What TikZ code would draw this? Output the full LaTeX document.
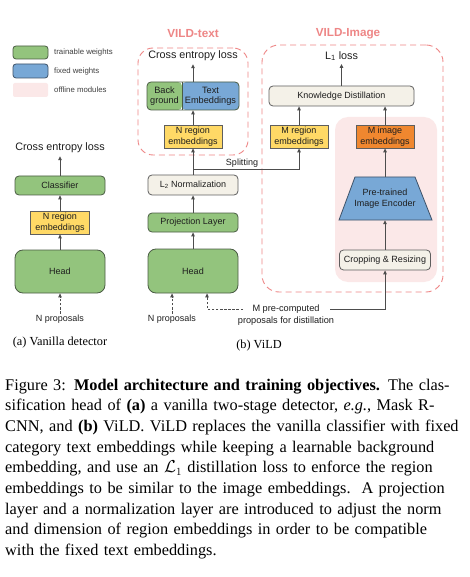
\documentclass[tikz,border=0pt]{standalone}
\usepackage{fontspec}
\setmainfont{Liberation Serif}
\newfontfamily\diagsans{Liberation Sans}
\usetikzlibrary{arrows.meta,calc}
\definecolor{gfill}{HTML}{93C47D}
\definecolor{gdraw}{HTML}{4A5C44}
\definecolor{bfill}{HTML}{78A8D6}
\definecolor{bdraw}{HTML}{3E5268}
\definecolor{yfill}{HTML}{FFD966}
\definecolor{ofill}{HTML}{F0872F}
\definecolor{beige}{HTML}{F4F1E8}
\definecolor{bordc}{HTML}{5E5E5E}
\definecolor{pinkc}{HTML}{FBE8E8}
\definecolor{redd}{HTML}{EE8686}
\definecolor{arrc}{HTML}{4D4D4D}
\definecolor{txtc}{HTML}{1E1E1E}
\newcommand{\dgbox}{\diagsans\fontsize{9}{10.6}\selectfont}
\newcommand{\dgbig}{\diagsans\fontsize{10.8}{12}\selectfont}
\newcommand{\dgleg}{\diagsans\fontsize{7.8}{9}\selectfont}
\newcommand{\dgtitle}{\diagsans\bfseries\fontsize{11.7}{13}\selectfont}
\newcommand{\dgsub}{\fontsize{12.3}{14}\selectfont}
\newcommand{\capfont}{\fontsize{16.3}{20.7}\selectfont}
\newcommand{\capline}[1]{\makebox[448pt][s]{#1}}
\begin{document}
\begin{tikzpicture}[x=1pt,y=-1pt,
  box/.style={draw=bordc, line width=0.8pt, inner sep=0pt, align=center, font=\dgbox, text=txtc},
  gbox/.style={box, fill=gfill, draw=gdraw},
  bbox/.style={box, fill=bfill, draw=bdraw},
  ybox/.style={box, fill=yfill},
  obox/.style={box, fill=ofill},
  wbox/.style={box, fill=beige, rounded corners=4pt},
  lbl/.style={inner sep=0pt, align=center, font=\dgbox, text=txtc},
  biglbl/.style={inner sep=0pt, align=center, font=\dgbig, text=txtc},
  leglbl/.style={inner sep=0pt, anchor=west, font=\dgleg, text=txtc!85},
  ttl/.style={inner sep=0pt, font=\dgtitle, text=redd},
  dashbox/.style={draw=redd, line width=0.9pt, dash pattern=on 6pt off 4pt, rounded corners=15pt, inner sep=0pt},
  arr/.style={draw=arrc, line width=0.9pt, -{Triangle[length=4pt,width=3.6pt]}},
  darr/.style={arr, dash pattern=on 2.5pt off 1.6pt},
  sublbl/.style={inner sep=0pt, font=\dgsub}]
\useasboundingbox[fill=white] (0,0) rectangle (470,577);

% ---------- legend
\node[gbox, rounded corners=3pt, minimum width=35pt, minimum height=13pt] (lgg) at (30.5,52.5) {};
\node[bbox, rounded corners=3pt, minimum width=35pt, minimum height=14pt] (lgb) at (30.5,71) {};
\node[fill=pinkc, rounded corners=2pt, minimum width=35pt, minimum height=14pt, inner sep=0pt] (lgp) at (30.5,90) {};
\node[leglbl] (lgtg) at (54,52.5) {trainable weights};
\node[leglbl] (lgtb) at (54,71) {fixed weights};
\node[leglbl] (lgtp) at (54,90) {offline modules};

% ---------- (a) vanilla detector
\node[biglbl] (cela) at (60,148) {Cross entropy loss};
\node[gbox, rounded corners=4pt, minimum width=90pt, minimum height=19pt] (clsa) at (60,185.5) {Classifier};
\node[ybox, minimum width=59pt, minimum height=23pt] (nrea) at (60,222.5) {N region\\embeddings};
\node[gbox, rounded corners=8pt, minimum width=90pt, minimum height=43pt] (heada) at (60,271.5) {Head};
\node[lbl] (npa) at (60,319) {N proposals};
\node[sublbl] (suba) at (60,343) {(a) Vanilla detector};
\draw[arr] (heada.north) -- (nrea.south);
\draw[arr] (nrea.north) -- (clsa.south);
\draw[arr, shorten >=3pt] (clsa.north) -- (cela.south);
\draw[darr, shorten <=1pt] (npa.north) -- (heada.south);

% ---------- frames
\node[dashbox, minimum width=110pt, minimum height=107pt] (vt) at (193,101.5) {};
\node[dashbox, rounded corners=17pt, minimum width=181pt, minimum height=247pt] (vi) at (352.5,168.5) {};
\node[fill=pinkc, rounded corners=13pt, minimum width=102pt, minimum height=165pt, inner sep=0pt] (off) at (386,199.5) {};
\node[ttl] (vtt) at (193,34) {VILD-text};
\node[ttl] (vit) at (348,34) {VILD-Image};

% ---------- (b) ViLD, text branch
\node[gbox, rounded corners=8pt, minimum width=90pt, minimum height=44pt] (headb) at (193,271) {Head};
\node[gbox, rounded corners=4pt, minimum width=90pt, minimum height=19pt] (proj) at (193,222.5) {Projection Layer};
\node[wbox, minimum width=90pt, minimum height=20pt] (ltwo) at (193,185) {L\textsubscript{2} Normalization};
\node[ybox, minimum width=58pt, minimum height=23pt] (nreb) at (193,136.5) {N region\\embeddings};
\node[box, draw=gdraw, rounded corners=4pt, minimum width=92pt, minimum height=28pt,
  path picture={
    \fill[gfill] (path picture bounding box.north west) rectangle ([xshift=35pt]path picture bounding box.south west);
    \fill[bfill] ([xshift=35pt]path picture bounding box.north west) rectangle (path picture bounding box.south east);
    \draw[draw=gdraw, line width=0.8pt] ([xshift=35pt]path picture bounding box.north west) -- ([xshift=35pt]path picture bounding box.south west);
  }] (clsb) at (193,96) {};
\node[lbl, font=\diagsans\fontsize{9.2}{10.2}\selectfont] (bgt) at (164.5,96) {Back\\ground};
\node[lbl, font=\diagsans\fontsize{9.2}{10.2}\selectfont] (tet) at (210.5,96) {Text\\Embeddings};
\node[biglbl] (celb) at (193,56) {Cross entropy loss};
\node[lbl] (npb) at (172,319) {N proposals};
\node[sublbl] (subb) at (259,346) {(b) ViLD};

\draw[arr] (headb.north) -- (proj.south);
\draw[arr] (proj.north) -- (ltwo.south);
\draw[arr] (ltwo.north) -- (nreb.south);
\draw[arr] (nreb.north) -- (clsb.south);
\draw[arr, shorten >=3pt] (clsb.north) -- (celb.south);
\draw[darr, shorten <=1pt] (npb.north) -- (npb.north |- headb.south);

% ---------- image branch
\node[biglbl] (lone) at (341.5,56) {L\textsubscript{1} loss};
\node[wbox, minimum width=145pt, minimum height=20pt] (kd) at (341.5,96) {Knowledge Distillation};
\node[ybox, minimum width=58pt, minimum height=23pt] (mreg) at (299,136.5) {M region\\embeddings};
\node[obox, minimum width=58pt, minimum height=23pt] (mimg) at (385,136.5) {M image\\embeddings};
\fill[bfill, draw=bdraw, line width=0.8pt] (339,220) -- (355,177) -- (415,177) -- (432,220) -- cycle;
\node[lbl, minimum width=93pt, minimum height=43pt] (enc) at (385,198.5) {Pre-trained\\Image Encoder};
\node[wbox, minimum width=91pt, minimum height=20pt] (crop) at (385,260) {Cropping \& Resizing};

\draw[arr, shorten >=3pt] (kd.north) -- (lone.south);
\draw[arr] (mreg.north) -- (mreg.north |- kd.south);
\draw[arr] (mimg.north) -- (mimg.north |- kd.south);
\draw[arr] (enc.north) -- (mimg.south);
\draw[arr] (crop.north) -- (enc.south);

% splitting
\coordinate (split) at (193,169);
\draw[arr] (split) -| (mreg.south);
\node[lbl] (splt) at (242,163) {Splitting};

% M proposals
\node[lbl, font=\diagsans\fontsize{9.2}{12}\selectfont] (mp) at (286,315) {M pre-computed\\proposals for distillation};
\coordinate (mpl) at (243,309);
\coordinate (mpr) at (330,309);
\draw[darr] (mpl) -| ([xshift=14pt]headb.south);
\draw[arr] (mpr) -| (crop.south);

% ---------- caption
\node[anchor=base west, inner sep=0pt, text width=448pt, align=left, font=\capfont] (cap) at (5,390) {%
\capline{Figure 3: \textbf{Model architecture and training objectives.} The clas-}\\
\capline{sification head of \textbf{(a)} a vanilla two-stage detector, \textit{e.g.}, Mask R-}\\
\capline{CNN, and \textbf{(b)} ViLD. ViLD replaces the vanilla classifier with fixed}\\
\capline{category text embeddings while keeping a learnable background}\\
\capline{embedding, and use an $\mathcal{L}_1$ distillation loss to enforce the region}\\
\capline{embeddings to be similar to the image embeddings.\ \ A projection}\\
\capline{layer and a normalization layer are introduced to adjust the norm}\\
\capline{and dimension of region embeddings in order to be compatible}\\
with the fixed text embeddings.};
\end{tikzpicture}
\end{document}
